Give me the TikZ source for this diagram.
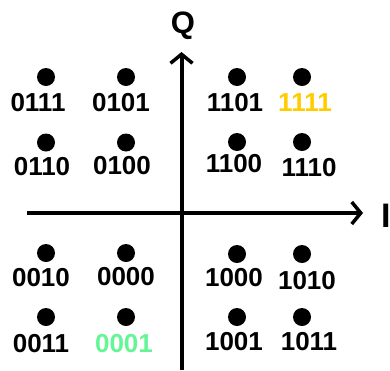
\documentclass[tikz,border=0pt]{standalone}
\usepackage{fontspec}
\setmainfont{Liberation Sans}
\usetikzlibrary{arrows.meta}
\definecolor{gold}{RGB}{255,204,0}
\definecolor{mint}{RGB}{102,245,150}
\tikzset{
  pt/.style={circle,fill=black,inner sep=0pt,minimum size=18pt},
  lbl/.style={inner sep=0pt,font=\fontsize{26}{26}\selectfont\bfseries},
  axis/.style={line width=4pt,-{Straight Barb[length=9pt,width=22pt,line width=3.5pt]}},
  axlbl/.style={inner sep=0pt,font=\bfseries}
}
\begin{document}
\begin{tikzpicture}[x=1pt,y=-1pt]
\useasboundingbox (0,0) rectangle (390,370);
% axes
\coordinate (qs) at (181.5,370);
\coordinate (qe) at (181.5,52);
\coordinate (is) at (27,213);
\coordinate (ie) at (363,213);
\draw[axis] (qs) -- (qe);
\draw[axis] (is) -- (ie);
\node[axlbl,font=\fontsize{31}{31}\selectfont\bfseries,anchor=base] (Q) at (183,33) {Q};
\node[axlbl,font=\fontsize{34}{34}\selectfont\bfseries,anchor=base west] (I) at (381,227) {I};
% constellation points, upper left
\node[pt] (p0111) at (46,77) {};
\node[pt] (p0101) at (126,77) {};
\node[pt] (p0110) at (46,142.5) {};
\node[pt] (p0100) at (126,142.5) {};
\node[lbl] (l0111) at (38,102.5) {0111};
\node[lbl] (l0101) at (121,102.5) {0101};
\node[lbl] (l0110) at (42,167) {0110};
\node[lbl] (l0100) at (122,166) {0100};
% upper right
\node[pt] (p1101) at (237,77) {};
\node[pt] (p1111) at (302,77) {};
\node[pt] (p1100) at (237,142) {};
\node[pt] (p1110) at (302,142) {};
\node[lbl] (l1101) at (235,102.5) {1101};
\node[lbl,text=gold] (l1111) at (305,102.5) {1111};
\node[lbl] (l1100) at (234,164) {1100};
\node[lbl] (l1110) at (309,167.5) {1110};
% lower left
\node[pt] (p0010) at (46,253) {};
\node[pt] (p0000) at (126,253) {};
\node[pt] (p0011) at (46,317) {};
\node[pt] (p0001) at (126,317) {};
\node[lbl] (l0010) at (41,278) {0010};
\node[lbl] (l0000) at (126,277) {0000};
\node[lbl] (l0011) at (41,344) {0011};
\node[lbl,text=mint] (l0001) at (124,344) {0001};
% lower right
\node[pt] (p1000) at (237,254) {};
\node[pt] (p1010) at (302,254) {};
\node[pt] (p1001) at (237,317) {};
\node[pt] (p1011) at (302,317) {};
\node[lbl] (l1000) at (234,278) {1000};
\node[lbl] (l1010) at (307,281) {1010};
\node[lbl] (l1001) at (234,342) {1001};
\node[lbl] (l1011) at (309,342) {1011};
\end{tikzpicture}
\end{document}
